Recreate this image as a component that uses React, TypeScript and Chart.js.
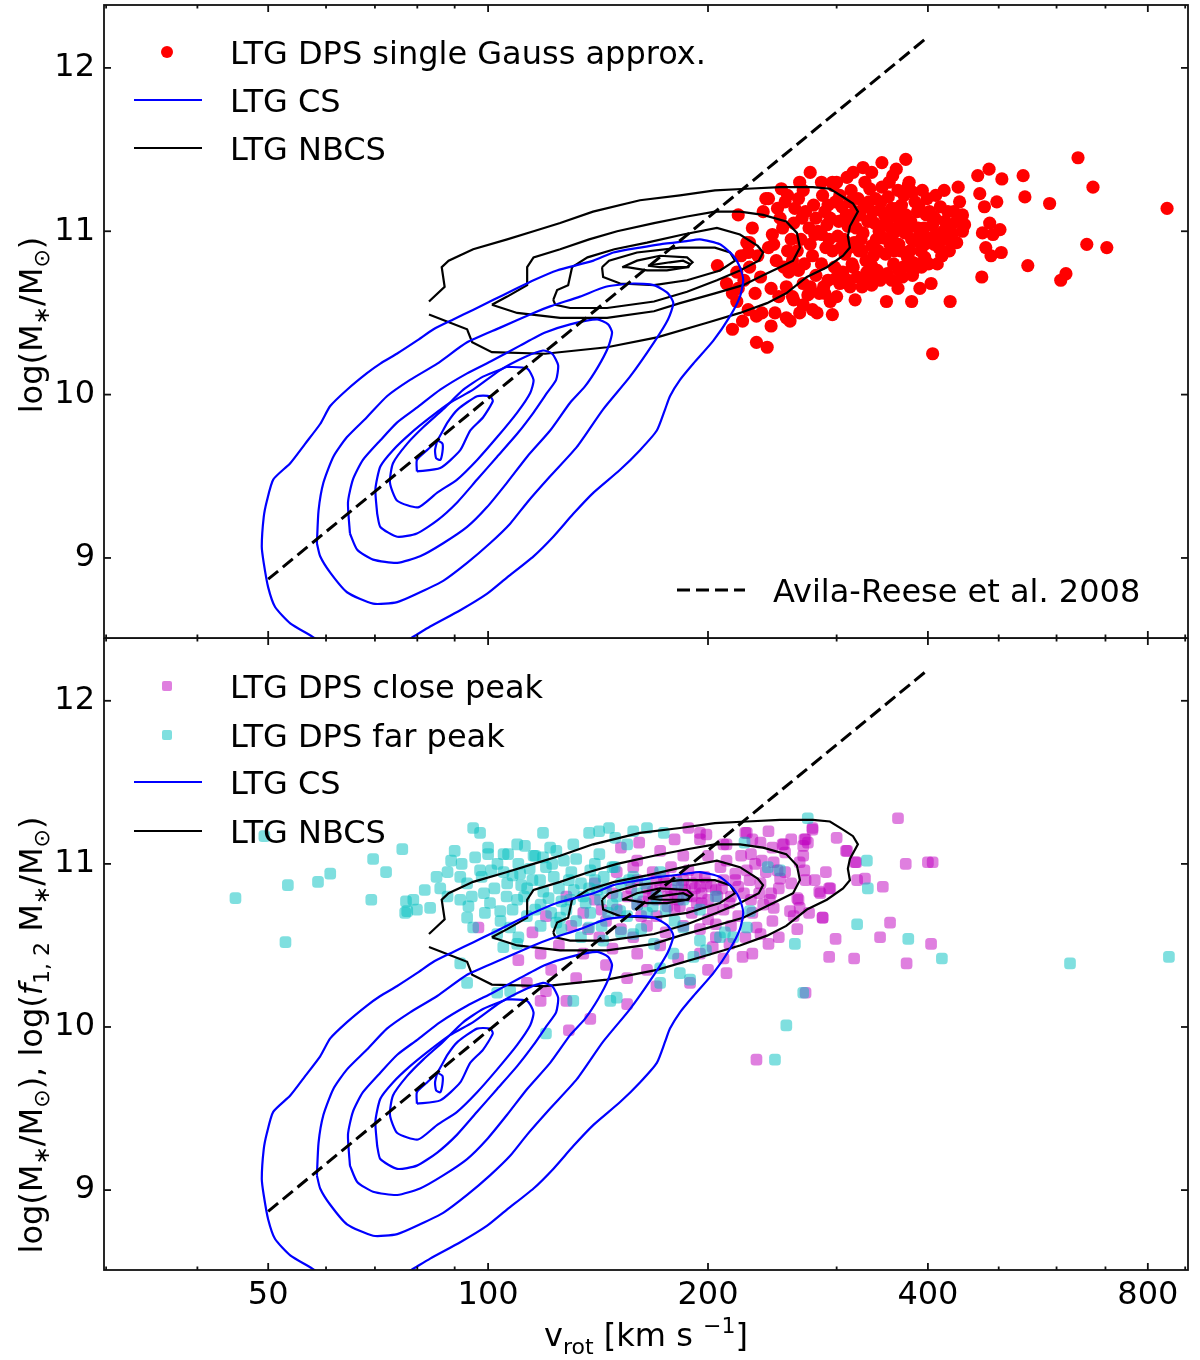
import { useEffect, useRef } from "react";
import Chart from "chart.js/auto";

type Pair = [number, number];

const FONT = "'DejaVu Sans', Verdana, sans-serif";
const FS = 32;

// axes
const V_MIN = 29.8;
const V_MAX = 908;
const M_MIN = 8.51;
const M_MAX = 12.385;
const V_MAJOR = [50, 100, 200, 400, 800];
const V_MINOR = [30, 40, 60, 70, 80, 90, 300, 500, 600, 700, 900];
const M_TICKS = [9, 10, 11, 12];

// Avila-Reese et al. 2008 relation, end points [v_rot, log M*]
const AVILA_REESE: Pair[] = [
  [50, 8.87],
  [400, 12.19],
];

// LTG CS density contours [v_rot, log M*], outermost first
const CS_1: Pair[] = [
  [60, 8.46], [57.4, 8.52], [53.6, 8.6], [51.1, 8.7], [50.0, 8.82], [49.3, 8.97], [49.0, 9.07],
  [49.3, 9.25], [49.8, 9.35], [50.8, 9.48], [53.6, 9.58], [56.2, 9.7], [58.9, 9.82], [60.8, 9.93],
  [64.1, 10.03], [68.2, 10.13], [71.2, 10.19], [75.0, 10.25], [79.9, 10.33], [84.2, 10.4],
  [89.6, 10.46], [95.5, 10.52], [101.7, 10.58], [108.3, 10.64], [115.4, 10.7], [124.2, 10.76],
  [139.4, 10.82], [148.4, 10.87], [161.4, 10.9], [171.9, 10.92], [187, 10.94], [195, 10.95],
  [207.7, 10.92], [216.6, 10.85], [221.2, 10.78], [223.5, 10.7], [221.2, 10.6], [214.4, 10.48],
  [203.4, 10.33], [191, 10.19], [183.1, 10.09], [177.4, 9.99], [174.7, 9.91], [170.2, 9.78],
  [161.4, 9.66], [151.6, 9.54], [139.4, 9.4], [130.8, 9.27], [122.8, 9.13], [115.4, 9.01],
  [106.1, 8.88], [99.6, 8.78], [91.6, 8.68], [83.3, 8.58], [78.5, 8.51], [75, 8.46],
];
const CS_2: Pair[] = [
  [58.3, 9.09], [58.9, 9.01], [60.8, 8.91], [64.1, 8.79], [69.6, 8.72], [75.1, 8.73], [80.7, 8.79],
  [86.8, 8.86], [93.6, 8.97], [100.6, 9.09], [107.2, 9.21], [113.1, 9.34], [121.6, 9.5],
  [132.3, 9.68], [143.7, 9.91], [156.4, 10.11], [168.7, 10.32], [176.3, 10.46], [179.3, 10.56],
  [176.3, 10.62], [168.7, 10.67], [158.0, 10.68], [144.9, 10.66], [133.6, 10.6], [121.6, 10.54],
  [115.4, 10.5], [103.9, 10.41], [93.6, 10.32], [85.2, 10.19], [78.2, 10.09], [72.7, 9.99],
  [68.2, 9.86], [64.1, 9.74], [61.4, 9.62], [59.5, 9.46], [58.6, 9.29], [58.3, 9.09],
];
const CS_3: Pair[] = [
  [64.7, 9.15], [64.3, 9.34], [65.3, 9.48], [67.4, 9.6], [71.2, 9.72], [75.1, 9.83], [79.9, 9.92],
  [86.0, 10.03], [93.6, 10.13], [101.5, 10.21], [110.6, 10.3], [119.7, 10.38], [129.5, 10.43],
  [141.0, 10.46], [146.0, 10.43], [147.8, 10.38], [146.0, 10.29], [141.4, 10.17], [135.7, 10.05],
  [129.5, 9.95], [121.6, 9.78], [113.1, 9.62], [106.1, 9.46], [99.6, 9.31], [93.6, 9.19],
  [86.8, 9.09], [80.7, 9.01], [75.1, 8.97], [69.6, 8.99], [66.2, 9.05], [64.7, 9.15],
];
const CS_4: Pair[] = [
  [70.5, 9.27], [70.1, 9.42], [71.2, 9.56], [74.1, 9.66], [78.2, 9.76], [83.3, 9.86], [88.7, 9.95],
  [95.4, 10.03], [103.9, 10.15], [112.3, 10.23], [118.9, 10.27], [122.4, 10.25], [124.7, 10.18],
  [123.9, 10.09], [120.4, 10.01], [115.4, 9.89], [109.6, 9.76], [102.9, 9.62], [96.6, 9.48],
  [90.7, 9.34], [85.2, 9.23], [79.9, 9.15], [75.1, 9.13], [71.2, 9.19], [70.5, 9.27],
];
const CS_5: Pair[] = [
  [106.2, 10.17], [113.1, 10.16], [115.4, 10.09], [114.2, 10.01], [109.6, 9.89], [102.9, 9.74],
  [96.6, 9.6], [90.7, 9.48], [85.2, 9.4], [80.2, 9.31], [75.1, 9.35], [73.4, 9.46], [74.1, 9.58],
  [77.5, 9.7], [81.5, 9.8], [86.8, 9.91], [92.5, 10.03], [98.4, 10.11], [106.2, 10.17],
];
const CS_6: Pair[] = [
  [79.9, 9.53], [79.9, 9.6], [82.5, 9.66], [85.2, 9.72], [88.0, 9.83], [90.9, 9.91], [96.6, 9.99],
  [100.6, 9.99], [101.5, 9.96], [98.4, 9.86], [94.5, 9.78], [91.6, 9.66], [86.0, 9.55], [79.9, 9.53],
];
const CS_7: Pair[] = [
  [85.2, 9.72], [86.6, 9.7], [86.6, 9.65], [86.0, 9.6], [84.9, 9.61], [84.6, 9.66], [85.2, 9.72],
];

// LTG NBCS density contours
const NBCS_1: Pair[] = [
  [83.0, 10.57], [87.2, 10.66], [86.4, 10.78], [88.3, 10.82], [95.4, 10.89], [106.2, 10.95],
  [115.4, 11.0], [125.5, 11.05], [139.2, 11.12], [161.4, 11.19], [183.1, 11.22], [204.4, 11.25],
  [226.1, 11.26], [250.9, 11.27], [278.4, 11.27], [293.7, 11.26], [306.1, 11.21], [315.9, 11.17],
  [320.8, 11.12], [312.8, 11.03], [310.8, 10.97], [312.8, 10.9], [306.1, 10.85], [290.9, 10.78],
  [273.1, 10.72], [255.9, 10.62], [240.9, 10.56], [221.2, 10.5], [199.4, 10.44], [170.3, 10.35],
  [145.5, 10.29], [119.7, 10.25], [101.2, 10.26], [95.1, 10.32], [93.6, 10.4], [83.0, 10.49],
];
const NBCS_2: Pair[] = [
  [101.2, 10.55], [106.2, 10.6], [113.1, 10.67], [113.1, 10.78], [115.4, 10.84], [125.5, 10.89],
  [137.5, 10.95], [150.2, 11.0], [168.7, 11.05], [187.2, 11.09], [204.4, 11.12], [221.2, 11.12],
  [237.9, 11.1], [255.9, 11.06], [264.7, 10.99], [267.2, 10.9], [261.5, 10.82], [250.9, 10.78],
  [237.9, 10.73], [223.4, 10.67], [204.4, 10.62], [183.1, 10.56], [168.7, 10.51], [145.5, 10.47],
  [125.5, 10.47], [109.6, 10.5], [101.2, 10.55],
];
const NBCS_3: Pair[] = [
  [122.8, 10.58], [124.3, 10.64], [128.7, 10.67], [130.3, 10.78], [136.8, 10.84], [148.9, 10.89],
  [165.0, 10.93], [184.9, 10.98], [205.7, 11.02], [221.2, 10.98], [233.9, 10.91], [237.9, 10.87],
  [234.7, 10.82], [221.2, 10.76], [205.7, 10.7], [187.2, 10.63], [168.7, 10.57], [145.5, 10.53],
  [129.5, 10.53], [123.6, 10.55], [122.8, 10.58],
];
const NBCS_4: Pair[] = [
  [143.2, 10.78], [143.7, 10.72], [151.6, 10.68], [168.7, 10.67], [187.2, 10.7], [207.7, 10.76],
  [217.8, 10.82], [214.4, 10.87], [204.4, 10.9], [183.1, 10.9], [159.9, 10.87], [146.4, 10.82],
  [143.2, 10.78],
];
const NBCS_5: Pair[] = [
  [152.6, 10.78], [159.9, 10.82], [171.9, 10.85], [187.2, 10.84], [190.5, 10.81], [187.2, 10.78],
  [175.7, 10.76], [165.0, 10.76], [155.0, 10.78], [152.6, 10.78],
];
const NBCS_6: Pair[] = [
  [165.5, 10.79], [177.4, 10.81], [184.9, 10.82], [189.0, 10.8], [188.0, 10.78], [180.2, 10.78],
  [171.9, 10.78], [165.5, 10.79],
];

// LTG DPS single Gauss approximation
const SINGLE_GAUSS: Pair[] = [
  [642, 11.45], [673, 11.27], [850, 11.14], [660, 10.92], [703, 10.9], [618, 10.74], [608, 10.7],
  [548, 10.79], [543, 11.21], [540, 11.34], [587, 11.17], [505, 11.32], [485, 11.38], [468, 11.34],
  [471, 11.23], [478, 11.15], [497, 11.18], [486, 11.05], [502, 11.01], [475, 10.99], [491, 10.98],
  [480, 10.9], [488, 10.85], [504, 10.87], [474, 10.72], [440, 11.27], [421, 11.25], [442, 11.18],
  [446, 11.1], [449, 11.04], [431, 11.04], [446, 11.0], [415, 10.96], [426, 10.95], [438, 10.93],
  [418, 10.85], [429, 10.57], [406, 10.25], [392, 10.78], [381, 10.81], [381, 10.73], [404, 10.68],
  [390, 10.65], [365, 10.76], [364, 10.65], [380, 10.57], [351, 10.57], [346, 11.42], [373, 11.44],
  [358, 11.34], [376, 11.28], [326, 11.39], [316, 11.36], [300, 11.3], [276, 11.36], [296, 11.3],
  [267, 11.3], [242, 11.2], [220, 11.1], [206, 10.79], [216, 10.4], [233, 10.32], [241, 10.29],
  [244, 10.42], [237, 10.5], [256, 10.47], [267, 10.5], [278, 10.52], [296, 10.49], [294, 10.57],
  [289, 10.62], [274, 10.61], [261, 10.6], [313, 10.66], [325, 10.66], [335, 10.67], [347, 10.73],
  [335, 10.79], [316, 10.78], [303, 10.75], [219, 10.57], [220, 10.65], [227, 10.87], [228, 10.93],
  [255, 11.18], [262, 11.05], [268, 10.95], [272, 11.12], [278, 10.85], [283, 11.0], [287, 11.22],
  [290, 10.9], [294, 11.08], [298, 10.78], [301, 10.97], [305, 11.15], [308, 10.86], [311, 11.03],
  [314, 11.25], [317, 10.93], [320, 10.72], [323, 11.1], [326, 10.99], [329, 10.82], [332, 11.18],
  [335, 10.91], [338, 11.05], [341, 10.76], [344, 11.13], [347, 10.96], [350, 10.86], [353, 11.21],
  [356, 11.02], [359, 10.8], [362, 11.09], [365, 10.92], [368, 11.16], [372, 10.99], [375, 10.84],
  [379, 11.06], [383, 10.94], [387, 11.12], [391, 10.88], [395, 11.02], [399, 11.2], [404, 10.96],
  [409, 11.08], [414, 10.9], [420, 11.0], [426, 11.12], [432, 10.98], [245, 10.98], [248, 10.82],
  [251, 11.08], [258, 10.75], [265, 10.88], [270, 10.68], [275, 11.02], [281, 10.73], [286, 10.98],
  [292, 10.7], [297, 11.28], [303, 10.68], [309, 11.1], [315, 10.8], [322, 10.88], [328, 11.3],
  [334, 10.7], [340, 10.95], [346, 11.27], [352, 10.74], [358, 10.98], [364, 11.25], [370, 10.78],
  [377, 11.3], [385, 10.8], [393, 11.25], [401, 10.8], [410, 11.22], [418, 10.85], [428, 10.88],
  [438, 11.06], [238, 11.12], [242, 10.9], [252, 11.26], [260, 10.95], [266, 11.2], [276, 10.92],
  [284, 10.62], [289, 11.12], [296, 10.88], [302, 11.06], [307, 10.95], [313, 11.18], [319, 11.02],
  [325, 10.88], [331, 11.06], [337, 10.85], [343, 11.0], [349, 11.1], [355, 10.92], [361, 11.0],
  [367, 10.88], [373, 11.1], [380, 10.95], [388, 11.02], [396, 10.92], [406, 11.04], [416, 11.15],
  [424, 10.95], [230, 11.02], [234, 10.85], [236, 10.72], [240, 11.2], [244, 10.65], [250, 10.6],
  [256, 10.66], [262, 10.58], [228, 10.78], [232, 10.62], [226, 10.93], [224, 10.7], [222, 10.85],
  [249, 11.14], [257, 10.88], [263, 11.14], [271, 10.8], [279, 11.16], [286, 10.8], [293, 10.95],
  [299, 11.18], [306, 10.75], [312, 10.9], [318, 11.12], [324, 10.95], [330, 10.75], [336, 11.12],
  [342, 10.88], [348, 11.04], [354, 11.3], [360, 10.88], [366, 11.04], [371, 11.22], [378, 10.88],
  [384, 11.18], [390, 10.98], [398, 11.1], [408, 10.92], [412, 10.8], [216, 10.62], [219, 10.75],
  [223, 10.45], [227, 10.52], [212, 10.68], [233, 10.48], [247, 10.5], [259, 10.45], [270, 10.55],
  [282, 10.5], [300, 10.6], [318, 10.58], [253, 11.02], [261, 10.82], [269, 11.08], [280, 10.98],
  [291, 11.04], [304, 10.9], [316, 11.07], [327, 11.15], [339, 11.2], [351, 11.05], [363, 11.14],
  [376, 11.02], [389, 11.15], [402, 11.12], [286, 11.3], [310, 11.33], [335, 11.36], [362, 11.38],
  [246, 10.92], [254, 10.78], [266, 10.76], [276, 10.66], [288, 10.66], [299, 10.71], [311, 10.7],
  [327, 10.7], [344, 10.7], [357, 10.7], [369, 10.72], [382, 10.76], [396, 10.84], [410, 10.98],
  [422, 11.06], [434, 11.12], [257, 11.22], [270, 11.25], [281, 11.08], [292, 11.16], [303, 11.22],
  [321, 11.2], [333, 11.26], [345, 11.18], [357, 11.14], [369, 11.06], [381, 11.24], [393, 10.98],
];

// LTG DPS close peak
const CLOSE_PEAK: Pair[] = [
  [364, 11.28], [373, 11.0], [400, 11.01], [406, 11.01], [347, 10.86], [319, 11.01], [320, 10.9],
  [328, 10.91], [309, 11.08], [300, 11.16], [278, 11.21], [271, 11.15], [274, 11.13], [270, 11.11],
  [242, 11.2], [225, 11.19], [199, 11.18], [212, 11.12], [253, 11.12], [255, 11.07], [236, 11.13],
  [229, 11.06], [237, 11.02], [246, 11.01], [267, 11.01], [271, 10.96], [272, 10.9], [249, 10.96],
  [251, 10.91], [244, 10.82], [243, 10.78], [266, 10.78], [267, 10.73], [259, 10.71], [262, 10.68],
  [246, 10.73], [284, 10.83], [293, 10.85], [287, 10.67], [299, 10.54], [293, 10.43], [317, 10.42],
  [355, 10.64], [344, 10.55], [374, 10.39], [404, 10.51], [233, 10.61], [236, 10.57], [242, 10.51],
  [223, 10.43], [212, 10.33], [272, 10.21], [233, 9.8], [214, 10.51], [203, 10.49], [205, 10.63],
  [188, 11.22], [195, 11.19], [226, 11.19], [278, 11.22], [254, 11.12], [272, 11.15], [310, 11.08],
  [318, 11.01], [294, 10.85], [285, 10.82], [265, 10.79], [287, 10.67], [189, 10.27], [155, 10.14],
  [138, 10.05], [129, 9.98], [128, 10.16], [118, 10.16], [120, 10.22], [113, 10.27], [110, 10.41],
  [97, 10.61], [152, 11.1], [161, 11.13], [150, 10.72], [155, 10.8], [160, 10.75], [165, 10.85],
  [170, 10.78], [175, 10.88], [180, 10.82], [185, 10.9], [190, 10.8], [195, 10.86], [200, 10.78],
  [205, 10.84], [210, 10.9], [215, 10.8], [220, 10.86], [160, 10.9], [168, 10.95], [178, 10.98],
  [188, 10.96], [198, 10.92], [208, 10.98], [218, 10.94], [228, 10.9], [235, 10.82], [240, 10.95],
  [170, 10.68], [180, 10.72], [190, 10.7], [200, 10.66], [210, 10.72], [220, 10.68], [145, 10.65],
  [152, 10.6], [158, 10.55], [165, 10.62], [175, 10.58], [185, 10.62], [195, 10.6], [140, 10.78],
  [135, 10.7], [130, 10.62], [142, 10.55], [125, 10.5], [135, 10.45], [148, 10.48], [160, 10.45],
  [172, 10.5], [182, 10.42], [195, 10.45], [205, 10.55], [215, 10.62], [225, 10.55], [230, 10.7],
  [238, 10.75], [245, 10.65], [250, 10.85], [255, 10.95], [260, 10.88], [232, 11.0], [222, 11.05],
  [212, 11.02], [200, 11.05], [185, 11.05], [172, 11.08], [160, 11.02], [150, 10.95], [140, 10.88],
  [192, 10.85], [182, 10.78], [176, 10.8], [186, 10.84], [196, 10.76], [206, 10.8], [166, 10.8],
  [128, 10.8], [120, 10.68], [115, 10.58], [118, 10.45], [122, 10.35], [132, 10.3], [145, 10.38],
  [155, 10.3], [165, 10.35], [170, 10.25], [200, 10.35], [210, 10.42], [230, 10.45], [250, 10.55],
  [265, 10.6], [275, 10.7], [280, 10.9], [290, 10.95], [270, 11.05], [245, 11.1], [260, 11.15],
  [230, 11.15], [210, 11.12], [195, 11.15], [180, 11.15], [172, 10.86], [178, 10.84], [184, 10.86],
  [190, 10.88], [196, 10.82], [202, 10.86], [170, 10.9], [183, 10.74], [193, 10.76], [176, 10.74],
  [163, 10.77], [168, 10.83], [174, 10.92], [181, 10.9], [187, 10.8], [193, 10.92], [199, 10.88],
  [203, 10.72], [209, 10.85], [214, 10.76], [218, 10.9], [224, 10.82], [229, 10.78], [157, 10.85],
  [162, 10.68], [148, 10.82], [143, 10.72], [137, 10.6], [158, 10.98], [226, 10.96], [236, 10.88],
];

// LTG DPS far peak
const FAR_PEAK: Pair[] = [
  [49.4, 11.17], [76.3, 11.09], [69.6, 11.03], [72.5, 10.95], [60.8, 10.94], [58.5, 10.89],
  [53.2, 10.87], [45.1, 10.79], [69.2, 10.78], [77.2, 10.77], [79.0, 10.78], [77.0, 10.7],
  [79.9, 10.72], [52.8, 10.52], [95.4, 11.22], [97.5, 11.19], [118.9, 11.19], [109.6, 11.12],
  [112.3, 11.11], [100, 11.06], [106.5, 11.06], [91.6, 10.92], [81.9, 10.84], [83.3, 10.73],
  [77.5, 10.71], [137.5, 11.19], [141.9, 11.2], [146.4, 11.22], [149.3, 11.16], [130.8, 11.12],
  [121.6, 11.1], [115.4, 11.05], [118.9, 11.04], [122.4, 11.0], [97.5, 10.96], [93.6, 10.88],
  [98.7, 10.82], [91.6, 10.78], [100.6, 10.76], [93.6, 10.67], [103.9, 10.71], [109.6, 10.78],
  [113.1, 10.85], [117.8, 10.9], [110.6, 10.94], [106.2, 10.88], [102.9, 10.57], [107.2, 10.61],
  [95.4, 10.61], [104.9, 10.49], [109.6, 10.51], [91.6, 10.39], [93.6, 10.27], [102.9, 10.21],
  [107.2, 10.22], [130.8, 10.16], [120.0, 9.96], [273.9, 11.28], [330, 11.02], [331, 10.85],
  [320, 10.63], [263, 10.51], [270, 10.21], [256, 10.01], [189, 10.29], [183, 10.33], [172, 10.36],
  [172, 10.27], [147, 10.16], [150, 10.18], [158, 11.2], [165, 11.22], [174, 11.19], [155, 11.12],
  [142, 11.06], [149, 10.98], [158, 10.92], [137.5, 10.85], [129.5, 10.78], [142.3, 10.78],
  [151.6, 10.71], [125.5, 10.67], [137.5, 10.61], [143.7, 10.53], [158, 10.57], [168.7, 10.51],
  [179.3, 10.45], [191, 10.43], [198.7, 10.47], [207.7, 10.55], [185, 10.61], [195, 10.53],
  [216.6, 10.55], [226.1, 10.61], [241.5, 10.98], [250.9, 10.96], [376, 10.54], [418, 10.42],
  [626, 10.39], [855, 10.43], [247, 9.8], [224.4, 11.13], [228.3, 10.71], [210.9, 10.58],
  [105, 10.95], [110, 11.0], [115, 10.9], [120, 10.98], [125, 10.85], [130, 10.95], [135, 10.8],
  [140, 10.9], [145, 10.85], [150, 10.8], [112, 10.8], [118, 10.75], [122, 10.7], [128, 10.72],
  [132, 10.65], [138, 10.7], [143, 10.62], [148, 10.75], [155, 10.68], [160, 10.75], [165, 10.7],
  [170, 10.8], [175, 10.72], [102, 10.85], [98, 10.92], [95, 10.8], [108, 10.72], [116, 11.05],
  [124, 11.08], [132, 11.03], [140, 11.0], [148, 10.98], [156, 10.9], [164, 10.88], [92, 11.0],
  [100, 11.1], [88, 10.95], [86, 10.85], [126, 10.6], [134, 10.55], [152, 10.58], [162, 10.6],
  [180, 10.65], [185, 10.78], [195, 10.72], [205, 10.8], [172, 10.95], [182, 10.88], [118, 10.62],
  [110, 10.55], [104, 10.65], [96, 11.04], [103, 11.0], [108, 10.93], [114, 10.97], [119, 10.83],
  [123, 10.92], [127, 11.02], [134, 10.88], [138, 10.96], [144, 10.92], [113, 10.68], [106, 10.8],
  [99, 10.7], [126, 10.77], [131, 10.84], [146, 10.7], [88, 10.8], [85, 10.92], [90, 11.08],
  [101, 10.96], [111, 10.87], [121, 10.79], [129, 10.9], [136, 10.76], [141, 10.84], [152, 10.88],
  [160, 10.82], [168, 10.74], [116, 10.72], [124, 10.64], [94, 10.74], [89, 11.02], [105, 11.06],
];

const CS_LEVELS = [CS_1, CS_2, CS_3, CS_4, CS_5, CS_6, CS_7];
const NBCS_LEVELS = [NBCS_1, NBCS_2, NBCS_3, NBCS_4, NBCS_5, NBCS_6];

const RED = "#ff0000";
const BLUE = "#0000ff";
const MAGENTA = "rgba(191, 0, 191, 0.5)";
const CYAN = "rgba(0, 191, 191, 0.5)";

const xy = (pts: Pair[]) => pts.map(([x, y]) => ({ x, y }));

const lineSet = (pts: Pair[], color: string, width: number, dash: number[] = [], order = 1) => ({
  type: "line" as const,
  data: xy(pts),
  borderColor: color,
  borderWidth: width,
  borderDash: dash,
  pointRadius: 0,
  tension: 0.2,
  fill: false,
  clip: 0,
  order,
});

const pointSet = (pts: Pair[], color: string, style: string, r: number) => ({
  type: "scatter" as const,
  data: xy(pts),
  pointStyle: style,
  pointRadius: r,
  pointBackgroundColor: color,
  backgroundColor: color,
  pointBorderWidth: 0,
  borderWidth: 0,
  clip: 0,
  order: 2,
});

const contours = () => [
  ...CS_LEVELS.map((c) => lineSet(c, BLUE, 2.2)),
  ...NBCS_LEVELS.map((c) => ({ ...lineSet(c, "#000", 2.2), tension: 0 })),
  lineSet(AVILA_REESE, "#000", 3, [13, 6], 0),
];

// rich text: sub/superscripts for axis titles
type Seg = { t: string; k?: "sub" | "sup"; it?: boolean };
const segFont = (s: Seg) => `${s.it ? "italic " : ""}${s.k ? Math.round(FS * 0.7) : FS}px ${FONT}`;
const segDy = (s: Seg) => (s.k === "sub" ? FS * 0.24 : s.k === "sup" ? -FS * 0.42 : 0);

function drawRich(ctx: CanvasRenderingContext2D, segs: Seg[], cx: number, base: number) {
  const widths = segs.map((s) => {
    ctx.font = segFont(s);
    return ctx.measureText(s.t).width;
  });
  let x = cx - widths.reduce((a, b) => a + b, 0) / 2;
  ctx.textAlign = "left";
  ctx.textBaseline = "alphabetic";
  segs.forEach((s, i) => {
    ctx.font = segFont(s);
    ctx.fillText(s.t, x, base + segDy(s));
    x += widths[i];
  });
}

type LegendItem = { kind: "dot" | "square" | "line" | "dash"; color: string; label: string; x: number; y: number };

type Decor = {
  legend: LegendItem[];
  ylabel: Seg[];
  ylabelY: number;
  xlabel?: Seg[];
  xlabelBase?: number;
};

const decor = (d: Decor) => ({
  id: "decor",
  afterDraw(chart: any) {
    const { ctx, chartArea: a } = chart;
    const xs = chart.scales.x;
    const ys = chart.scales.y;
    ctx.save();
    ctx.strokeStyle = "#111";
    ctx.lineWidth = 1.8;
    ctx.strokeRect(a.left, a.top, a.right - a.left, a.bottom - a.top);

    const tick = (x1: number, y1: number, x2: number, y2: number) => {
      ctx.beginPath();
      ctx.moveTo(x1, y1);
      ctx.lineTo(x2, y2);
      ctx.stroke();
    };
    const vt = (v: number, len: number) => {
      const px = xs.getPixelForValue(v);
      tick(px, a.bottom, px, a.bottom - len);
      tick(px, a.top, px, a.top + len);
    };
    V_MAJOR.forEach((v) => vt(v, 7));
    V_MINOR.forEach((v) => vt(v, 3.5));
    M_TICKS.forEach((m) => {
      const py = ys.getPixelForValue(m);
      tick(a.left, py, a.left + 7, py);
      tick(a.right, py, a.right - 7, py);
    });

    // legend
    d.legend.forEach((it) => {
      const tx = a.left + it.x;
      const ty = a.top + it.y;
      if (it.kind === "dot") {
        ctx.fillStyle = it.color;
        ctx.beginPath();
        ctx.arc(tx - 63, ty, 6, 0, Math.PI * 2);
        ctx.fill();
      } else if (it.kind === "square") {
        ctx.fillStyle = it.color;
        ctx.beginPath();
        (ctx as any).roundRect(tx - 68, ty - 5, 10, 10, 2);
        ctx.fill();
      } else {
        ctx.strokeStyle = it.color;
        ctx.lineWidth = it.kind === "dash" ? 3 : 2;
        ctx.setLineDash(it.kind === "dash" ? [13, 6] : []);
        tick(tx - 96, ty, tx - 28, ty);
        ctx.setLineDash([]);
      }
      ctx.fillStyle = "#000";
      ctx.font = `${FS}px ${FONT}`;
      ctx.textAlign = "left";
      ctx.textBaseline = "alphabetic";
      ctx.fillText(it.label, tx, ty + FS * 0.36);
    });

    // axis titles
    ctx.fillStyle = "#000";
    ctx.save();
    ctx.translate(30, d.ylabelY);
    ctx.rotate(-Math.PI / 2);
    drawRich(ctx, d.ylabel, 0, FS * 0.36);
    ctx.restore();
    if (d.xlabel) drawRich(ctx, d.xlabel, (a.left + a.right) / 2, d.xlabelBase ?? 0);
    ctx.restore();
  },
});

type PanelProps = {
  top: number;
  height: number;
  datasets: any[];
  decor: Decor;
  showX: boolean;
};

const Panel = ({ top, height, datasets, decor: d, showX }: PanelProps) => {
  const ref = useRef<HTMLCanvasElement>(null);

  useEffect(() => {
    if (!ref.current) return;
    const chart = new Chart(ref.current, {
      type: "scatter",
      data: { datasets } as any,
      options: {
        responsive: false,
        animation: false,
        events: [],
        layout: {
          autoPadding: false,
          padding: { top: showX ? 0 : 5, bottom: showX ? 0 : 2, left: 0, right: 12 },
        },
        plugins: { legend: { display: false }, tooltip: { enabled: false } },
        scales: {
          x: {
            type: "logarithmic",
            display: showX,
            min: V_MIN,
            max: V_MAX,
            grid: { display: false, drawTicks: false },
            border: { display: false },
            afterBuildTicks: (s: any) => {
              s.ticks = V_MAJOR.map((value) => ({ value }));
            },
            afterFit: (s: any) => {
              s.height = showX ? 90 : 0;
              s.paddingLeft = 0;
              s.paddingRight = 0;
            },
            ticks: {
              autoSkip: false,
              maxRotation: 0,
              padding: 6,
              color: "#000",
              font: { family: FONT, size: FS },
              callback: (v: any) => String(v),
            },
          },
          y: {
            type: "linear",
            min: M_MIN,
            max: M_MAX,
            grid: { display: false, drawTicks: false },
            border: { display: false },
            afterBuildTicks: (s: any) => {
              s.ticks = M_TICKS.map((value) => ({ value }));
            },
            afterFit: (s: any) => {
              s.width = 104;
              s.paddingTop = 0;
              s.paddingBottom = 0;
            },
            ticks: {
              padding: 9,
              color: "#000",
              font: { family: FONT, size: FS },
              callback: (v: any) => String(v),
            },
          },
        },
      } as any,
      plugins: [decor(d)],
    });
    return () => {
      chart.destroy();
    };
  }, []);

  return (
    <canvas
      ref={ref}
      width={1200}
      height={height}
      style={{ position: "absolute", left: 0, top, width: 1200, height }}
    />
  );
};

const TOP_DECOR: Decor = {
  legend: [
    { kind: "dot", color: RED, label: "LTG DPS single Gauss approx.", x: 126, y: 47 },
    { kind: "line", color: BLUE, label: "LTG CS", x: 126, y: 95 },
    { kind: "line", color: "#000", label: "LTG NBCS", x: 126, y: 143 },
    { kind: "dash", color: "#000", label: "Avila-Reese et al. 2008", x: 669, y: 585 },
  ],
  ylabel: [{ t: "log(M" }, { t: "∗", k: "sub" }, { t: "/M" }, { t: "⊙", k: "sub" }, { t: ")" }],
  ylabelY: 325,
};

const BOTTOM_DECOR: Decor = {
  legend: [
    { kind: "square", color: MAGENTA, label: "LTG DPS close peak", x: 126, y: 48 },
    { kind: "square", color: CYAN, label: "LTG DPS far peak", x: 126, y: 97 },
    { kind: "line", color: BLUE, label: "LTG CS", x: 126, y: 144 },
    { kind: "line", color: "#000", label: "LTG NBCS", x: 126, y: 193 },
  ],
  ylabel: [
    { t: "log(M" }, { t: "∗", k: "sub" }, { t: "/M" }, { t: "⊙", k: "sub" }, { t: "), log(" },
    { t: "f", it: true }, { t: "1, 2", k: "sub" }, { t: " M" }, { t: "∗", k: "sub" }, { t: "/M" },
    { t: "⊙", k: "sub" }, { t: ")" },
  ],
  ylabelY: 397,
  xlabel: [{ t: "v" }, { t: "rot", k: "sub" }, { t: " [km s " }, { t: "−1", k: "sup" }, { t: "]" }],
  xlabelBase: 708,
};

export default function App() {
  return (
    <div style={{ position: "absolute", left: 0, top: 0, width: 1200, height: 1360, background: "#fff" }}>
      <Panel
        top={0}
        height={640}
        showX={false}
        decor={TOP_DECOR}
        datasets={[...contours(), pointSet(SINGLE_GAUSS, RED, "circle", 6.6)]}
      />
      <Panel
        top={638}
        height={722}
        showX={true}
        decor={BOTTOM_DECOR}
        datasets={[
          ...contours(),
          pointSet(FAR_PEAK, CYAN, "rectRounded", 6.8),
          pointSet(CLOSE_PEAK, MAGENTA, "rectRounded", 6.8),
        ]}
      />
    </div>
  );
}
